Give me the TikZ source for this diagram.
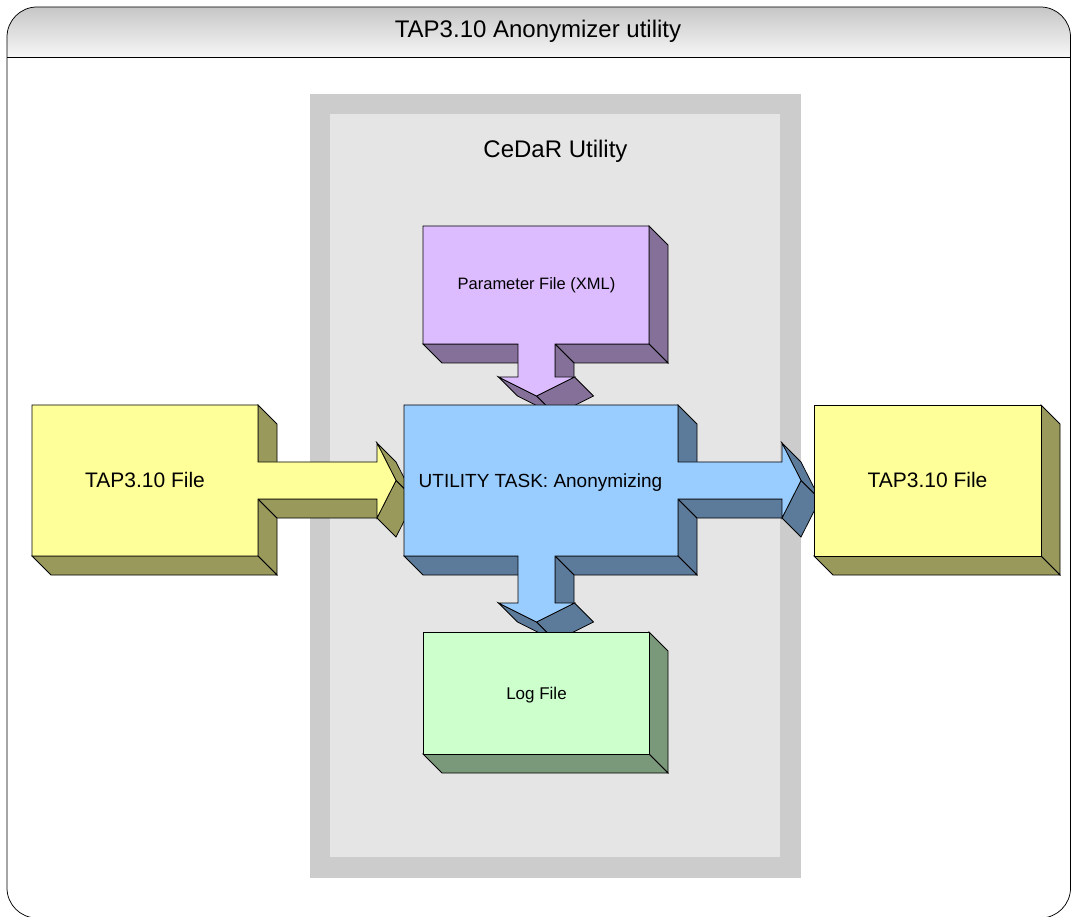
\documentclass[tikz,border=0pt]{standalone}
\usepackage{fontspec}
\setmainfont{Liberation Sans}
\usetikzlibrary{calc}

\definecolor{yelF}{HTML}{FFFF99}
\definecolor{yelD}{HTML}{99995C}
\definecolor{bluF}{HTML}{99CCFF}
\definecolor{bluD}{HTML}{5C7A99}
\definecolor{purF}{HTML}{DDBBFF}
\definecolor{purD}{HTML}{857099}
\definecolor{grnF}{HTML}{CCFFCC}
\definecolor{grnD}{HTML}{7A997A}
\definecolor{boxOut}{HTML}{CCCCCC}
\definecolor{boxIn}{HTML}{E5E5E5}

\newcommand{\blockdepth}{19}
% one side face of an extruded block, between corners #2 and #3
\newcommand{\sideface}[3]{\filldraw[fill=#1] (#2) -- (#3) -- ($(#3)+(\blockdepth,\blockdepth)$) -- ($(#2)+(\blockdepth,\blockdepth)$) -- cycle;}
\newcommand{\pxfont}[1]{\fontsize{#1}{#1}\selectfont}

\tikzset{lbl/.style={anchor=base,inner sep=0pt}}

\begin{document}
\begin{tikzpicture}[x=1pt,y=-1pt,line width=0.75pt]
    \useasboundingbox (0,0) rectangle (1072,917);

    % frame and title bar
    \begin{scope}
    \clip[rounded corners=30] (7,7) rectangle (1070.5,918);
    \shade[top color=gray!45,bottom color=gray!6] (7,7) rectangle (1071,57);
    \end{scope}
    \draw[rounded corners=30] (7,7) rectangle (1070.5,918);
    \draw (7,57) -- (1070.5,57);
    \node[lbl,font=\pxfont{24}] (title) at (538,38) {TAP3.10 Anonymizer utility};

    % CeDaR area
    \fill[boxOut] (310,94) rectangle (801,878);
    \fill[boxIn] (330,114) rectangle (780,857);
    \node[lbl,font=\pxfont{24}] (cedar) at (555.5,158) {CeDaR Utility};

    % parameter file
    \coordinate (p1) at (423,226);
    \coordinate (p2) at (649,226);
    \coordinate (p3) at (649,344);
    \coordinate (p4) at (555,344);
    \coordinate (p5) at (555,377);
    \coordinate (p6) at (574.5,377);
    \coordinate (p7) at (536.5,396);
    \coordinate (p8) at (498.5,377);
    \coordinate (p9) at (518,377);
    \coordinate (p10) at (518,344);
    \coordinate (p11) at (423,344);
    \sideface{purD}{p2}{p3}
    \sideface{purD}{p3}{p4}
    \sideface{purD}{p10}{p11}
    \sideface{purD}{p4}{p5}
    \sideface{purD}{p6}{p7}
    \sideface{purD}{p7}{p8}
    \filldraw[fill=purF] (p1) -- (p2) -- (p3) -- (p4) -- (p5) -- (p6) -- (p7) -- (p8) -- (p9) -- (p10) -- (p11) -- cycle;

    % input file
    \coordinate (a1) at (32,405);
    \coordinate (a2) at (258,405);
    \coordinate (a3) at (258,462);
    \coordinate (a4) at (377,462);
    \coordinate (a5) at (377,443);
    \coordinate (a6) at (396,480.5);
    \coordinate (a7) at (377,518);
    \coordinate (a8) at (377,499);
    \coordinate (a9) at (258,499);
    \coordinate (a10) at (258,556);
    \coordinate (a11) at (32,556);
    \sideface{yelD}{a2}{a3}
    \sideface{yelD}{a9}{a10}
    \sideface{yelD}{a10}{a11}
    \sideface{yelD}{a8}{a9}
    \sideface{yelD}{a5}{a6}
    \sideface{yelD}{a6}{a7}
    \filldraw[fill=yelF] (a1) -- (a2) -- (a3) -- (a4) -- (a5) -- (a6) -- (a7) -- (a8) -- (a9) -- (a10) -- (a11) -- cycle;

    % utility task
    \coordinate (b1) at (404,405);
    \coordinate (b2) at (678,405);
    \coordinate (b3) at (678,462);
    \coordinate (b4) at (782,462);
    \coordinate (b5) at (782,443);
    \coordinate (b6) at (801,480.5);
    \coordinate (b7) at (782,518);
    \coordinate (b8) at (782,499);
    \coordinate (b9) at (678,499);
    \coordinate (b10) at (678,556);
    \coordinate (b11) at (555,556);
    \coordinate (b12) at (555,603);
    \coordinate (b13) at (574.5,603);
    \coordinate (b14) at (536.5,622);
    \coordinate (b15) at (498.5,603);
    \coordinate (b16) at (518,603);
    \coordinate (b17) at (518,556);
    \coordinate (b18) at (404,556);
    \sideface{bluD}{b2}{b3}
    \sideface{bluD}{b9}{b10}
    \sideface{bluD}{b10}{b11}
    \sideface{bluD}{b17}{b18}
    \sideface{bluD}{b8}{b9}
    \sideface{bluD}{b11}{b12}
    \sideface{bluD}{b5}{b6}
    \sideface{bluD}{b6}{b7}
    \sideface{bluD}{b13}{b14}
    \sideface{bluD}{b14}{b15}
    \filldraw[fill=bluF] (b1) -- (b2) -- (b3) -- (b4) -- (b5) -- (b6) -- (b7) -- (b8) -- (b9) -- (b10) -- (b11) -- (b12) -- (b13) -- (b14) -- (b15) -- (b16) -- (b17) -- (b18) -- cycle;

    % output file
    \coordinate (r1) at (814,405);
    \coordinate (r2) at (1041,405);
    \coordinate (r3) at (1041,556);
    \coordinate (r4) at (814,556);
    \sideface{yelD}{r2}{r3}
    \sideface{yelD}{r3}{r4}
    \filldraw[fill=yelF] (r1) -- (r2) -- (r3) -- (r4) -- cycle;

    % log file
    \coordinate (g1) at (423,632);
    \coordinate (g2) at (649,632);
    \coordinate (g3) at (649,754);
    \coordinate (g4) at (423,754);
    \sideface{grnD}{g2}{g3}
    \sideface{grnD}{g3}{g4}
    \filldraw[fill=grnF] (g1) -- (g2) -- (g3) -- (g4) -- cycle;

    \node[lbl,font=\pxfont{16.5}] (param) at (536.5,290) {Parameter File (XML)};
    \node[lbl,font=\pxfont{21}] (inp) at (145,487.5) {TAP3.10 File};
    \node[lbl,font=\pxfont{19}] (task) at (540.5,487) {UTILITY TASK: Anonymizing};
    \node[lbl,font=\pxfont{21}] (outp) at (927.5,487.5) {TAP3.10 File};
    \node[lbl,font=\pxfont{17}] (log) at (536.5,699) {Log File};
\end{tikzpicture}
\end{document}
